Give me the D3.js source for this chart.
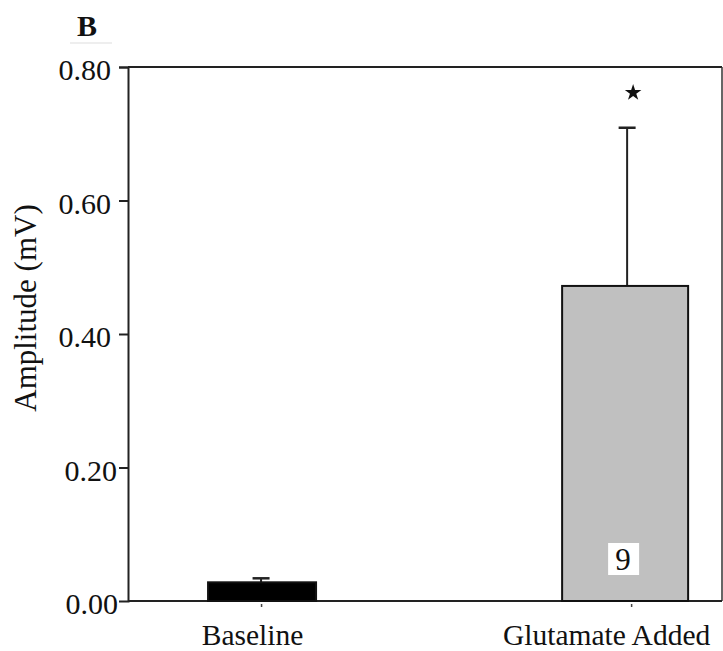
<!DOCTYPE html>
<html>
<head>
<meta charset="utf-8">
<script src="https://cdn.jsdelivr.net/npm/d3@7"></script>
<style>
  html, body { margin: 0; padding: 0; background: #fff; }
  svg { display: block; }
</style>
</head>
<body>
<svg id="chart" width="723" height="651"></svg>
<script>
// Amplitude before and after glutamate
const categories = ["Baseline", "Glutamate Added"];
const means = [0.028, 0.472];
const errors = [0.006, 0.237];
const sampleSizes = [null, 9];
const significant = [false, true];
const yTicks = [0.2, 0.4, 0.6, 0.8];

// styling
const FONT = "'Liberation Serif', 'DejaVu Serif', serif";
const fills = ["#000000", "#c0c0c0"];
const barWidths = [108, 126];
const barShift = [1, -6];
const errShift = [0, -4];
const labelShift = [-9, -25];

const svg = d3.select("#chart");
const margin = { top: 67, right: 1, bottom: 50, left: 128 };
const W = 723 - margin.left - margin.right;
const H = 651 - margin.top - margin.bottom;
const g = svg.append("g").attr("transform", `translate(${margin.left},${margin.top})`);

const x = d3.scalePoint().domain(categories).range([W * 0.224, W * 0.847]);
const y = d3.scaleLinear().domain([0, 0.8]).range([H, 0]);

// panel letter
svg.append("text").attr("x", 87).attr("y", 36).attr("text-anchor", "middle")
  .style("font-family", FONT).style("font-weight", "bold").style("font-size", "30px").attr("fill", "#111").text("B");
svg.append("line").attr("x1", 70).attr("x2", 112).attr("y1", 43).attr("y2", 43)
  .attr("stroke", "#ddd").attr("stroke-width", 1);

// frame (top and right)
g.append("line").attr("x1", 0).attr("x2", W).attr("y1", 0).attr("y2", 0)
  .attr("stroke", "#222").attr("stroke-width", 2);
g.append("line").attr("x1", W).attr("x2", W).attr("y1", 0).attr("y2", H)
  .attr("stroke", "#333").attr("stroke-width", 1.5);

// y axis
const yAxis = g.append("g").call(
  d3.axisLeft(y).tickValues(yTicks).tickFormat(d3.format(".2f")).tickSizeOuter(0).tickSize(9).tickPadding(8)
);
yAxis.select(".domain").attr("stroke", "#222").attr("stroke-width", 2);
yAxis.selectAll(".tick line").attr("stroke", "#222").attr("stroke-width", 2);
yAxis.selectAll("text").style("font-family", FONT).style("font-size", "30px").attr("fill", "#111")
  .attr("dy", "0.42em").attr("dx", d => d < 0.3 ? 6 : 0);
g.append("text").attr("x", -10).attr("y", H).attr("dy", "0.42em").attr("text-anchor", "end")
  .style("font-family", FONT).style("font-size", "30px").attr("fill", "#111").text(d3.format(".2f")(0));

// x axis
const xAxis = g.append("g").attr("transform", `translate(0,${H})`).call(
  d3.axisBottom(x).tickSize(4).tickSizeOuter(0).tickPadding(19)
);
xAxis.select(".domain").attr("stroke", "#222").attr("stroke-width", 2)
  .attr("d", `M0,0H${W}`);
xAxis.selectAll(".tick line").attr("stroke", "#444").attr("stroke-width", 1.5)
  .attr("y1", 3).attr("y2", 6);
xAxis.selectAll("text").style("font-family", FONT).style("font-size", "29.5px").attr("fill", "#111")
  .attr("dx", (d, i) => labelShift[i]);

// y axis title
svg.append("text")
  .attr("transform", `translate(36,${margin.top + H / 2 - 26}) rotate(-90)`)
  .attr("text-anchor", "middle").style("font-family", FONT).style("font-size", "31px")
  .attr("fill", "#111").text("Amplitude (mV)");

const data = categories.map((c, i) => ({ c, i, m: means[i], e: errors[i], n: sampleSizes[i], s: significant[i] }));

// error bars (upper only)
const eb = g.selectAll(".err").data(data).join("g").attr("class", "err");
eb.append("line")
  .attr("x1", d => x(d.c) + errShift[d.i]).attr("x2", d => x(d.c) + errShift[d.i])
  .attr("y1", d => y(d.m)).attr("y2", d => y(d.m + d.e))
  .attr("stroke", "#222").attr("stroke-width", 2);
eb.append("line")
  .attr("x1", d => x(d.c) + errShift[d.i] - 8.5).attr("x2", d => x(d.c) + errShift[d.i] + 8.5)
  .attr("y1", d => y(d.m + d.e)).attr("y2", d => y(d.m + d.e))
  .attr("stroke", "#222").attr("stroke-width", 2.5);

// bars
g.selectAll(".bar").data(data).join("rect").attr("class", "bar")
  .attr("x", d => x(d.c) + barShift[d.i] - barWidths[d.i] / 2)
  .attr("width", d => barWidths[d.i])
  .attr("y", d => y(d.m)).attr("height", d => H - y(d.m))
  .attr("fill", d => fills[d.i]).attr("stroke", "#111").attr("stroke-width", 2);

// sample size labels
const nl = g.selectAll(".nlab").data(data.filter(d => d.n != null)).join("g").attr("class", "nlab")
  .attr("transform", d => `translate(${x(d.c) - 8},${H - 42})`);
nl.append("rect").attr("x", -15).attr("y", -16).attr("width", 31).attr("height", 32).attr("fill", "#fff");
nl.append("text").attr("text-anchor", "middle").attr("dy", "0.35em")
  .style("font-family", FONT).style("font-size", "31px").attr("fill", "#111")
  .text(d => d.n);

// significance marks
g.selectAll(".sig").data(data.filter(d => d.s)).join("path").attr("class", "sig")
  .attr("d", d3.symbol(d3.symbolStar, 85))
  .attr("transform", d => `translate(${x(d.c) + 2},${y(d.m + d.e) - 35})`)
  .attr("fill", "#111");
</script>
</body>
</html>
